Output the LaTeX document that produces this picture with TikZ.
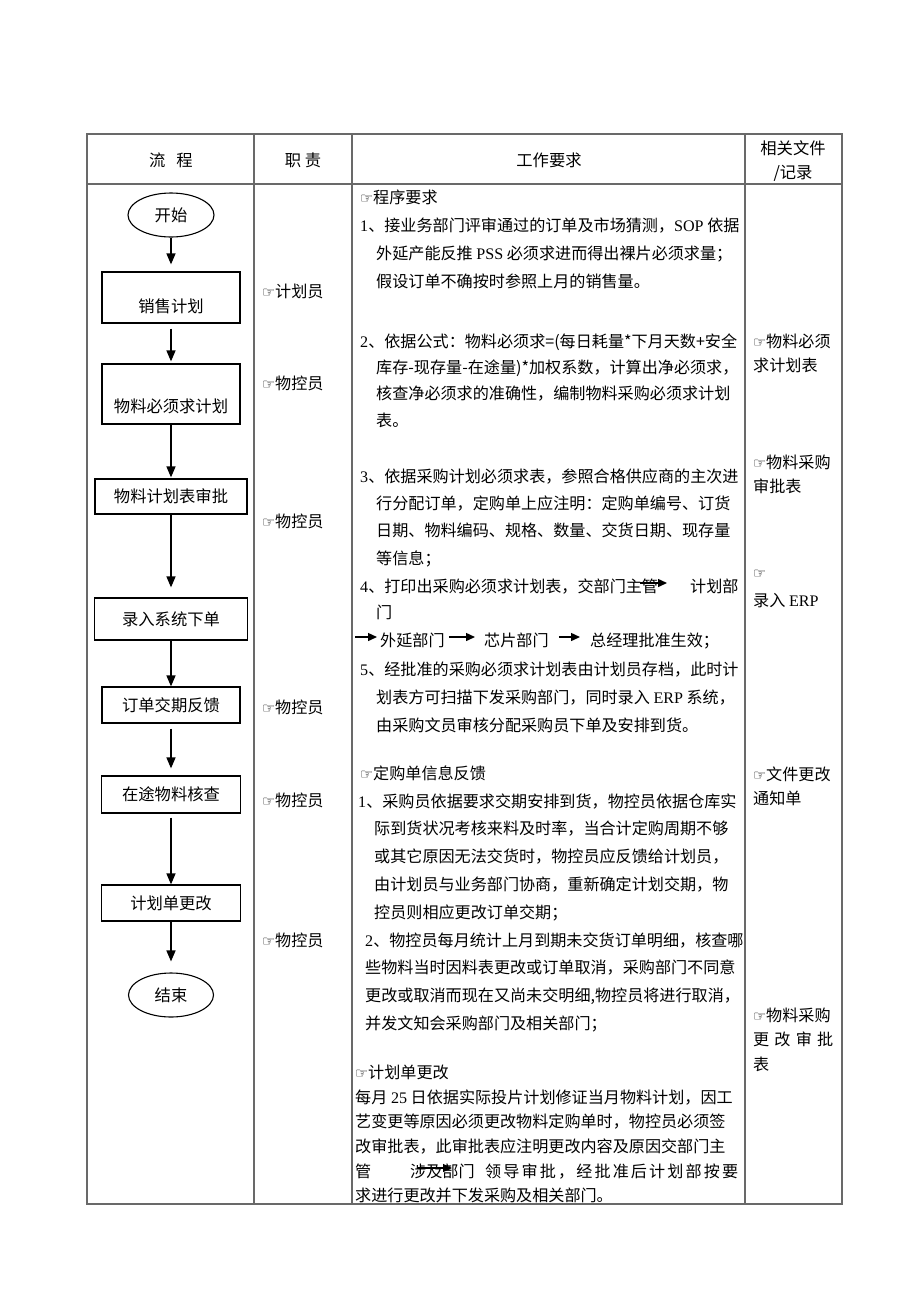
\documentclass[tikz,border=0pt]{standalone}
\usepackage{fontspec}
\setmainfont{Liberation Serif}
\newfontfamily\cjk{Noto Sans CJK SC}
\newfontfamily\handfont{DejaVu Sans}
\usetikzlibrary{arrows.meta,positioning,shapes.geometric}
\definecolor{RuleGray}{RGB}{105,105,105}
\newcommand{\hand}{{\handfont\fontsize{14.5}{14.5}\selectfont\char"261E}}
\newcommand{\lat}[1]{{\rmfamily #1}}
\newcommand{\ind}{\hspace*{16pt}}
\newcommand{\lsp}[1]{\cjk\fontsize{16.1}{#1}\selectfont}
\tikzset{
  frame/.style={draw=RuleGray,line width=1.3pt},
  flowbox/.style={draw=black,line width=1.2pt,inner sep=0pt,
    minimum width=138pt,text height=13pt,text depth=0.4pt,
    font=\cjk\fontsize{16.3}{18}\selectfont},
  terminal/.style={draw=black,ellipse,line width=1.1pt,inner sep=0pt,
    minimum width=86pt,minimum height=44pt,
    font=\cjk\fontsize{16.3}{18}\selectfont},
  flowarrow/.style={-{Triangle[length=11pt,width=9pt]},line width=1.5pt},
  inarrow/.style={-{Triangle[length=9pt,width=8pt]},line width=1.4pt},
  txt/.style={anchor=west,inner sep=0pt,text height=13pt,text depth=0.4pt},
  para/.style={anchor=north west,align=left,inner sep=0pt,
    execute at begin node={\rule{0pt}{14pt}}}
}

\begin{document}
\begin{tikzpicture}[x=1pt,y=-1pt,font=\lsp{28}]

\useasboundingbox (0,0) rectangle (920,1302);
\fill[white] (0,0) rectangle (920,1302);

% table
\draw[frame] (87,134) rectangle (842,1204);
\draw[frame] (87,184) -- (842,184);
\foreach \cx in {254,352,745}
  \draw[frame] (\cx,134) -- (\cx,1204);

\node[txt,anchor=center,font=\cjk\fontsize{16.3}{18}\selectfont] (hflow) at (171,160) {流\hspace{11pt}程};
\node[txt,anchor=center,font=\cjk\fontsize{16.3}{18}\selectfont] (hduty) at (303,160) {职 责};
\node[txt,anchor=center,font=\cjk\fontsize{16.3}{18}\selectfont] (hwork) at (549,160) {工作要求};
\node[para,anchor=north,align=center,font=\cjk\fontsize{16.3}{24}\selectfont] (hdoc) at (793,140.3) {相关文件\\/记录};

% flow
\node[terminal] (start) at (171,215) {开始};
\node[flowbox,text height=40pt,text depth=11pt] (sales) at (171,297.5) {销售计划};
\node[flowbox,text height=48pt,text depth=12pt] (need) at (171,394) {物料必须求计划};
\node[flowbox,minimum width=152pt,minimum height=35pt] (approve) at (171,496.5) {物料计划表审批};
\node[flowbox,minimum width=153pt,minimum height=42pt] (enter) at (171,619) {录入系统下单};
\node[flowbox,minimum height=36pt] (feedback) at (171,705) {订单交期反馈};
\node[flowbox,minimum width=139pt,minimum height=37pt] (check) at (171,794.5) {在途物料核查};
\node[flowbox,minimum width=139pt,minimum height=36pt] (change) at (171,903) {计划单更改};
\node[terminal,minimum width=85pt] (finish) at (171,995) {结束};

\draw[flowarrow,shorten >=7pt] (start) -- (sales);
\draw[flowarrow,shorten <=5pt,shorten >=2pt] (sales) -- (need);
\draw[flowarrow,shorten >=1pt] (need) -- (approve);
\draw[flowarrow,shorten >=10pt] (approve) -- (enter);
\draw[flowarrow] (enter) -- (feedback);
\draw[flowarrow,shorten <=5pt,shorten >=7pt] (feedback) -- (check);
\draw[flowarrow,shorten <=4pt] (check) -- (change);
\draw[flowarrow,shorten >=11pt] (change) -- (finish);

% duties
\node[txt] (r1) at (262,291) {\hand 计划员};
\node[txt] (r2) at (262,383) {\hand 物控员};
\node[txt] (r3) at (262,521) {\hand 物控员};
\node[txt] (r4) at (262,707) {\hand 物控员};
\node[txt] (r5) at (262,800) {\hand 物控员};
\node[txt] (r6) at (262,940) {\hand 物控员};

% work requirements
\node[txt] (s1) at (360,197) {\hand 程序要求};
\node[para,font=\lsp{28}] (p1) at (360,217.3) {\lat{1}、接业务部门评审通过的订单及市场猜测，\lat{SOP} 依据\\
\ind 外延产能反推 \lat{PSS} 必须求进而得出裸片必须求量；\\
\ind 假设订单不确按时参照上月的销售量。};
\node[para,font=\lsp{26.3}] (p2) at (360,333.3) {\lat{2}、依据公式：物料必须求=(每日耗量*下月天数+安全\\
\ind 库存-现存量-在途量)*加权系数，计算出净必须求，\\
\ind 核查净必须求的准确性，编制物料采购必须求计划\\
\ind 表。};
\node[para,font=\lsp{27.3}] (p3) at (360,468.3) {\lat{3}、依据采购计划必须求表，参照合格供应商的主次进\\
\ind 行分配订单，定购单上应注明：定购单编号、订货\\
\ind 日期、物料编码、规格、数量、交货日期、现存量\\
\ind 等信息；};
\node[txt] (p4a) at (360,586) {\lat{4}、打印出采购必须求计划表，交部门主管};
\node[txt] (p4b) at (690,586) {计划部};
\node[txt] (p4c) at (376,612) {门};
\node[txt] (ext) at (380,640) {外延部门};
\node[txt] (chip) at (484,640) {芯片部门};
\node[txt] (gm) at (590,640) {总经理批准生效；};
\coordinate (a1s) at (640,583);
\coordinate (a1e) at (667,583);
\coordinate (a2s) at (355,637);
\draw[inarrow] (a1s) -- (a1e);
\draw[inarrow] (a2s) -- ([yshift=3pt,xshift=-3pt]ext.west);
\draw[inarrow,shorten <=4pt,shorten >=9pt] ([yshift=3pt]ext.east) -- ([yshift=3pt]chip.west);
\draw[inarrow,shorten <=10pt,shorten >=10pt] ([yshift=3pt]chip.east) -- ([yshift=3pt]gm.west);
\node[para,font=\lsp{28}] (p5) at (360,661.3) {\lat{5}、经批准的采购必须求计划表由计划员存档，此时计\\
\ind 划表方可扫描下发采购部门，同时录入 \lat{ERP} 系统，\\
\ind 由采购文员审核分配采购员下单及安排到货。};

\node[txt] (s2) at (360,773) {\hand 定购单信息反馈};
\node[para,font=\lsp{27.75}] (q1) at (358,793.3) {\lat{1}、采购员依据要求交期安排到货，物控员依据仓库实\\
\ind 际到货状况考核来料及时率，当合计定购周期不够\\
\ind 或其它原因无法交货时，物控员应反馈给计划员，\\
\ind 由计划员与业务部门协商，重新确定计划交期，物\\
\ind 控员则相应更改订单交期；};
\node[para,font=\lsp{27.7}] (q2) at (365,932.3) {\lat{2}、物控员每月统计上月到期未交货订单明细，核查哪\\
些物料当时因料表更改或订单取消，采购部门不同意\\
更改或取消而现在又尚未交明细,物控员将进行取消，\\
并发文知会采购部门及相关部门；};

\node[txt] (s3) at (355,1072) {\hand 计划单更改};
\node[para,font=\lsp{24.5}] (c1) at (355,1089.3) {每月 \lat{25} 日依据实际投片计划修证当月物料计划，因工\\
艺变更等原因必须更改物料定购单时，物控员必须签\\
改审批表，此审批表应注明更改内容及原因交部门主};
\node[txt] (c2a) at (355,1171) {管};
\node[txt] (c2b) at (410,1171) {涉及部门};
\node[txt] (c2c) at (485,1171) {\makebox[253pt][s]{领\hfill 导\hfill 审\hfill 批\hfill ，\hfill 经\hfill 批\hfill 准\hfill 后\hfill 计\hfill 划\hfill 部\hfill 按\hfill 要}};
\coordinate (a5s) at (418,1168);
\coordinate (a5e) at (452,1168);
\draw[inarrow] (a5s) -- (a5e);
\node[txt] (c3) at (355,1195) {求进行更改并下发采购及相关部门。};

% related documents
\node[para,font=\lsp{24}] (d1) at (753,333.3) {\hand 物料必须\\求计划表};
\node[para,font=\lsp{24}] (d2) at (753,454.3) {\hand 物料采购\\审批表};
\node[para,font=\lsp{28}] (d3) at (753,570.3) {\hand\\录入 \lat{ERP}};
\node[para,font=\lsp{24}] (d4) at (753,766.3) {\hand 文件更改\\通知单};
\node[para,font=\lsp{24.5}] (d5) at (753,1007.3) {\hand 物料采购\\\makebox[80pt][s]{更\hfill 改\hfill 审\hfill 批}\\表};

\end{tikzpicture}
\end{document}
